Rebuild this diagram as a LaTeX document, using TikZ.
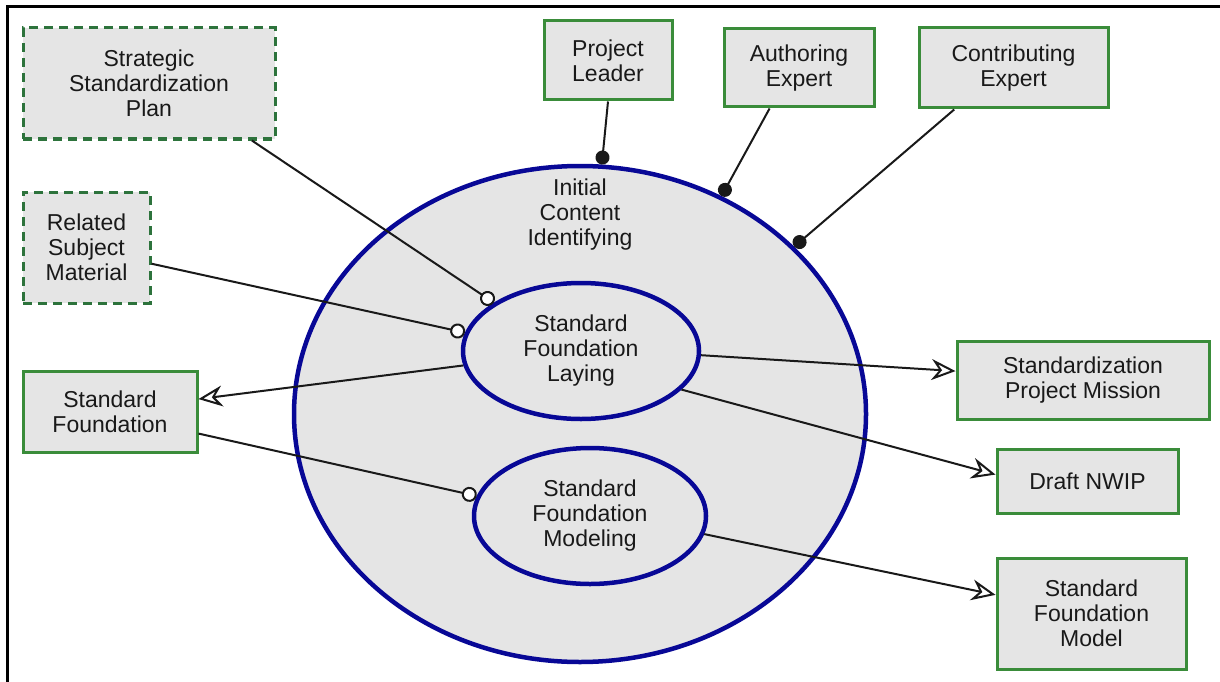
\documentclass[tikz,border=0pt]{standalone}
\usepackage{fontspec}
\setmainfont{Liberation Sans}
\usepackage{tikz}
\usetikzlibrary{shapes.geometric, arrows.meta}

\definecolor{boxgray}{RGB}{229,229,229}
\definecolor{rolegreen}{RGB}{58,140,58}
\definecolor{plangreen}{RGB}{45,115,60}
\definecolor{ovalblue}{RGB}{8,8,150}
\definecolor{inkgray}{RGB}{25,25,25}

\tikzset{
  role/.style={draw=rolegreen, line width=3pt, fill=boxgray, align=center, inner sep=0pt},
  plan/.style={role, draw=plangreen, dash pattern=on 9pt off 6pt},
  oval/.style={shape=ellipse, draw=ovalblue, line width=4.5pt, fill=boxgray, align=center, inner sep=0pt},
  link/.style={draw=black!90, line width=2pt},
  dotend/.style={link, -{Circle[length=14pt]}},
  ringend/.style={link, -{Circle[open, fill=white, length=15pt]}},
  feeds/.style={link, -{Stealth[open, length=24pt, width=21pt, inset=8pt]}}
}

\begin{document}
\begin{tikzpicture}[x=1pt, y=-1pt, font=\fontsize{23}{25}\selectfont, text=inkgray]
    \useasboundingbox (0,0) rectangle (1220,682);
    \draw [line width=3pt] (7,682) -- (7,7) -- (1220,7);

    % activities
    \node [oval, minimum width=572pt, minimum height=496pt,
           label={[anchor=center, yshift=-51pt, align=center]90:Initial\\Content\\Identifying}] (init) at (580,414) {};
    \node [oval, minimum width=236pt, minimum height=136pt] (lay) at (581,351) {Standard\\Foundation\\Laying};
    \node [oval, minimum width=232pt, minimum height=136pt] (mod) at (590,516) {Standard\\Foundation\\Modeling};

    % roles and products
    \node [plan, minimum width=252pt, minimum height=111pt] (ssp) at (149,83.5) {Strategic\\Standardization\\Plan};
    \node [plan, minimum width=127pt, minimum height=111pt] (rsm) at (86.5,247.5) {Related\\Subject\\Material};
    \node [role, minimum width=128pt, minimum height=79pt] (pl) at (608,60.5) {Project\\Leader};
    \node [role, minimum width=150pt, minimum height=78pt] (ae) at (799,68) {Authoring\\Expert};
    \node [role, minimum width=189pt, minimum height=80pt] (ce) at (1013.5,68) {Contributing\\Expert};
    \node [role, minimum width=174pt, minimum height=81pt] (sf) at (110,411.5) {Standard\\Foundation};
    \node [role, minimum width=252pt, minimum height=78pt] (spm) at (1083,380) {Standardization\\Project Mission};
    \node [role, minimum width=181pt, minimum height=64pt] (dn) at (1087.5,481) {Draft NWIP};
    \node [role, minimum width=189pt, minimum height=111pt] (sfm) at (1091.5,613.5) {Standard\\Foundation\\Model};

    \draw [dotend] (pl.south) -- (init.85);
    \draw [dotend] (ae.234) -- (init.57);
    \draw [dotend] (ce.215) -- (init.38);

    \draw [ringend] (ssp.331) -- (lay.151);
    \draw [ringend] (rsm.346) -- (lay.171);
    \draw [ringend] (sf.346) -- (mod.170);

    \draw [feeds] (lay.187) -- (sf.8);
    \draw [feeds] (lay.358) -- (spm.176);
    \draw [feeds] (lay.339) -- (dn.176);
    \draw [feeds] (mod.351) -- (sfm.169);
\end{tikzpicture}
\end{document}
